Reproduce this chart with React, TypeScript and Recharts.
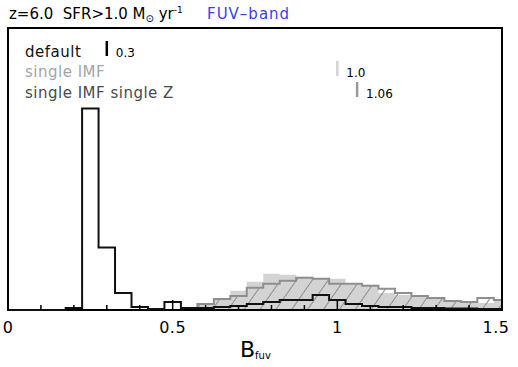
import {
  ComposedChart,
  Area,
  Line,
  XAxis,
  YAxis,
  ReferenceArea,
  ReferenceLine,
} from "recharts";

// histogram bins (centres), width 0.05
const binCenters = [
  0.2, 0.25, 0.3, 0.35, 0.4, 0.45, 0.5, 0.55, 0.6, 0.65, 0.7, 0.75, 0.8, 0.85,
  0.9, 0.95, 1.0, 1.05, 1.1, 1.15, 1.2, 1.25, 1.3, 1.35, 1.4, 1.45, 1.5,
];
const defaultCounts = [
  0.001, 0.1, 0.031, 0.0085, 0.0015, 0.0005, 0.004, 0.001, 0.001, 0.0015,
  0.002, 0.003, 0.004, 0.005, 0.005, 0.0075, 0.005, 0.003, 0.002, 0.0015,
  0.0015, 0.001, 0.001, 0.0008, 0.0008, 0.0005, 0.0005,
];
const singleImfCounts = [
  0, 0, 0, 0, 0, 0, 0, 0, 0.003, 0.006, 0.0095, 0.014, 0.018, 0.0175, 0.0165,
  0.0155, 0.0155, 0.013, 0.0125, 0.0085, 0.0075, 0.0065, 0.0055, 0.0045, 0.004,
  0.0035, 0.005,
];
const singleImfZCounts = [
  0, 0, 0, 0, 0, 0, 0, 0, 0.003, 0.0055, 0.007, 0.011, 0.013, 0.0145, 0.016,
  0.0155, 0.013, 0.013, 0.012, 0.0105, 0.0085, 0.007, 0.006, 0.0045, 0.004,
  0.006, 0.005,
];

const xTicks = [
  0, 0.1, 0.2, 0.3, 0.4, 0.5, 0.6, 0.7, 0.8, 0.9, 1.0, 1.1, 1.2, 1.3, 1.4, 1.5,
];
const majorTicks = [0, 0.5, 1, 1.5];
const tickLabels = ["0", "0.5", "1", "1.5"];

const legendNames = ["default", "single IMF", "single IMF single Z"];
const legendColors = ["#111", "#a4a4a4", "#4a4a4a"];
const medianValues = [0.3, 1.0, 1.06];
const medianLabels = ["0.3", "1.0", "1.06"];
const medianColors = ["#000", "#d2d2d2", "#9a9a9a"];

const BIN = 0.05;
const X_MAX = 1.5;
const Y_MAX = 0.14;
const FONT = "'DejaVu Sans', sans-serif";

// plot box in page pixels (top 28, bottom 310)
const PLOT_TOP = 28;
const PLOT_BOTTOM = 310;
const pxToY = (py: number) =>
  (Y_MAX * (PLOT_BOTTOM - py)) / (PLOT_BOTTOM - PLOT_TOP);
const legendBaselines = [57, 77, 98];

function toSteps(vals: number[]) {
  const pts = [{ x: 0, y: 0 }];
  vals.forEach((v, i) => pts.push({ x: +(binCenters[i] - BIN / 2).toFixed(3), y: v }));
  pts.push({ x: X_MAX, y: vals[vals.length - 1] });
  return pts;
}

const defaultData = toSteps(defaultCounts);
const imfData = toSteps(singleImfCounts);
const imfZData = toSteps(singleImfZCounts);

function AxisTick(props: any) {
  const { x, y, payload } = props;
  const idx = majorTicks.findIndex((m) => Math.abs(m - payload.value) < 1e-6);
  const major = idx >= 0;
  return (
    <g>
      <line x1={x} x2={x} y1={y} y2={y - (major ? 10 : 5)} stroke="#000" strokeWidth={1.5} />
      {major && (
        <text
          x={idx === majorTicks.length - 1 ? x - 6 : x}
          y={y + 23}
          textAnchor="middle"
          fontSize={16}
          letterSpacing={0.5}
          fontFamily={FONT}
          fill="#000"
        >
          {tickLabels[idx]}
        </text>
      )}
    </g>
  );
}

export default function App() {
  return (
    <div style={{ position: "absolute", left: 0, top: 0, width: 518, height: 367, background: "#fff" }}>
      <ComposedChart
        width={518}
        height={367}
        margin={{ top: PLOT_TOP, right: 16, bottom: 0, left: 8 }}
      >
        <defs>
          <pattern
            id="hatch"
            patternUnits="userSpaceOnUse"
            width={13}
            height={13}
            patternTransform="rotate(35)"
          >
            <line x1={0} y1={0} x2={0} y2={13} stroke="#8e8e8e" strokeWidth={2} />
          </pattern>
        </defs>
        <XAxis
          type="number"
          dataKey="x"
          domain={[0, X_MAX]}
          ticks={xTicks}
          interval={0}
          tickLine={false}
          axisLine={false}
          tickSize={0}
          tickMargin={0}
          height={57}
          tick={<AxisTick />}
          allowDuplicatedCategory
        />
        <YAxis type="number" domain={[0, Y_MAX]} hide />
        <Area
          data={imfData}
          dataKey="y"
          type="stepAfter"
          stroke="none"
          fill="#d3d3d3"
          fillOpacity={1}
          isAnimationActive={false}
        />
        <Area
          data={imfZData}
          dataKey="y"
          type="stepAfter"
          stroke="#8e8e8e"
          strokeWidth={2}
          fill="url(#hatch)"
          fillOpacity={1}
          isAnimationActive={false}
        />
        <Line
          data={defaultData}
          dataKey="y"
          type="stepAfter"
          stroke="#111"
          strokeWidth={2}
          dot={false}
          isAnimationActive={false}
        />
        <ReferenceArea x1={0} x2={X_MAX} y1={0} y2={Y_MAX} fill="none" stroke="#000" strokeWidth={2} />
        {medianValues.map((m, i) => (
          <ReferenceLine
            key={i}
            segment={[
              { x: m, y: pxToY(legendBaselines[i] - 16) },
              { x: m, y: pxToY(legendBaselines[i] - 1) },
            ]}
            stroke={medianColors[i]}
            strokeWidth={2.5}
            label={(p: any) => (
              <text
                x={p.viewBox.x + 9}
                y={p.viewBox.y + p.viewBox.height + 1}
                fontSize={12}
                fontFamily={FONT}
                fill="#000"
              >
                {medianLabels[i]}
              </text>
            )}
          />
        ))}
      </ComposedChart>
      <svg
        width={518}
        height={367}
        style={{ position: "absolute", left: 0, top: 0, pointerEvents: "none" }}
        fontFamily={FONT}
      >
        <text x={9} y={19} fontSize={15} fill="#000" style={{ whiteSpace: "pre" }}>
          {"z=6.0  SFR>1.0 M"}
          <tspan dy={3} fontSize={10}>⊙</tspan>
          <tspan dy={-3}>{" yr"}</tspan>
          <tspan dy={-6} fontSize={9}>-1</tspan>
        </text>
        <text x={207} y={19} fontSize={15} letterSpacing={1} fill="#3d3df0">
          FUV–band
        </text>
        {legendNames.map((n, i) => (
          <text
            key={n}
            x={25}
            y={legendBaselines[i]}
            fontSize={15}
            letterSpacing={0.5}
            fill={legendColors[i]}
            style={{ whiteSpace: "pre" }}
          >
            {n}
          </text>
        ))}
        <text x={240} y={357} fontSize={22} fill="#000">
          B<tspan fontSize={10} dy={2}>fuv</tspan>
        </text>
      </svg>
    </div>
  );
}
